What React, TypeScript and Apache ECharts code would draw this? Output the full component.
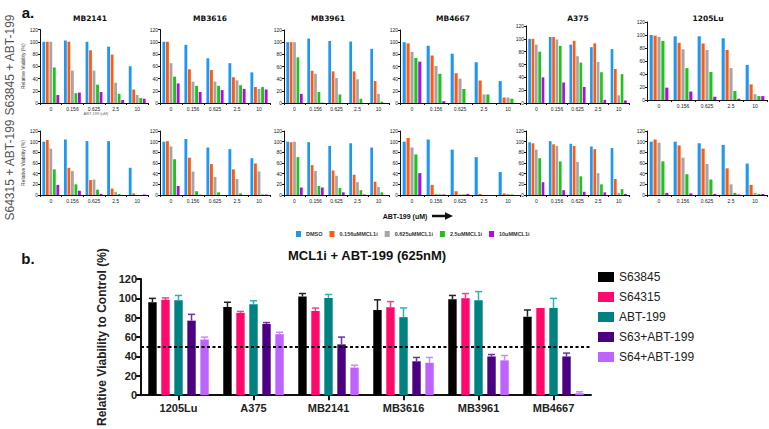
import React, { useEffect, useRef } from 'react';
import * as echarts from 'echarts';

const doses = ['0', '0.156', '0.625', '2.5', '10'];
const mclLevels = ['DMSO', '0.156uMMCL1i', '0.625uMMCL1i', '2.5uMMCL1i', '10uMMCL1i'];
const mclColors = ['#1E98F2', '#FF5A0F', '#A5A5A5', '#1EC31E', '#B20AE2'];
const cellLines = ['MB2141', 'MB3616', 'MB3961', 'MB4667', 'A375', '1205Lu'];
const rowLabels = ['S63845 + ABT-199', 'S64315 + ABT-199'];

// rows = ABT-199 dose, columns = MCL1i level (DMSO, 0.156, 0.625, 2.5, 10 uM)
const s63_MB2141 = [[100, 100, 100, 58, 13], [102, 100, 53, 16, 17], [100, 86, 53, 30, 18], [92, 79, 33, 15, 5], [60, 22, 13, 8, 7]];
const s63_MB3616 = [[100, 100, 65, 43, 32], [95, 55, 35, 28, 18], [73, 54, 35, 28, 21], [65, 42, 37, 29, 23], [50, 26, 23, 26, 22]];
const s63_MB3961 = [[100, 100, 100, 75, 15], [106, 53, 48, 18, 0.5], [102, 52, 41, 14, 0], [101, 52, 39, 7, 0], [89, 36, 15, 2, 0]];
const s63_MB4667 = [[100, 98, 84, 74, 68], [94, 78, 61, 48, 3], [81, 49, 40, 23, 0], [67, 37, 14, 14, 0], [36, 9, 9, 7, 0]];
const s63_A375 = [[100, 100, 91, 80, 40], [103, 103, 99, 89, 32], [91, 97, 73, 63, 25], [87, 93, 64, 48, 5], [84, 53, 12, 45, 4]];
const s63_1205Lu = [[100, 99, 97, 91, 19], [98, 88, 78, 49, 13], [98, 87, 77, 43, 5], [95, 77, 49, 14, 2], [54, 24, 9, 6, 6]];

const s64_MB2141 = [[100, 103, 87, 48, 19], [104, 51, 45, 20, 8], [101, 28, 29, 10, 2], [101, 12, 6, 2, 0], [51, 3, 0, 0, 1]];
const s64_MB3616 = [[100, 101, 91, 67, 17], [105, 70, 44, 7, 0.5], [89, 58, 34, 5, 0], [86, 48, 30, 3, 0], [69, 59, 44, 1, 1]];
const s64_MB3961 = [[100, 99, 100, 71, 14], [99, 56, 45, 17, 14], [92, 46, 36, 13, 5], [97, 38, 24, 9, 1], [89, 25, 15, 5, 0]];
const s64_MB4667 = [[100, 107, 89, 76, 41], [104, 19, 2, 1, 1], [85, 7, 1, 1, 2], [71, 2, 0, 0, 0], [43, 3, 2, 1, 0]];
const s64_A375 = [[99, 97, 85, 69, 24], [101, 95, 92, 63, 9], [96, 92, 62, 35, 6], [91, 86, 41, 20, 5], [88, 30, 4, 11, 2]];
const s64_1205Lu = [[100, 104, 98, 63, 4], [100, 93, 70, 39, 3], [97, 87, 58, 29, 2], [94, 50, 20, 4, 1], [59, 19, 4, 2, 2]];

const panelRows = [
  [s63_MB2141, s63_MB3616, s63_MB3961, s63_MB4667, s63_A375, s63_1205Lu],
  [s64_MB2141, s64_MB3616, s64_MB3961, s64_MB4667, s64_A375, s64_1205Lu],
];

const comboCells = ['1205Lu', 'A375', 'MB2141', 'MB3616', 'MB3961', 'MB4667'];
const comboSeries = ['S63845', 'S64315', 'ABT-199', 'S63+ABT-199', 'S64+ABT-199'];
const comboColors = ['#000000', '#FF0A6C', '#008282', '#4B0084', '#BF63FF'];
const comboErrColors = ['#222222', '#FF3D8A', '#2DB3B3', '#6A30A8', '#C98AFF'];
const viab_S63845 = [96, 91, 102, 88, 99, 81];
const err_S63845 = [4, 5, 3, 10.5, 4, 7];
const viab_S64315 = [98.5, 85, 87, 90.7, 100, 90];
const err_S64315 = [2, 1.5, 3, 6, 5, 0];
const viab_ABT199 = [98, 94, 100.5, 80.6, 98, 90];
const err_ABT199 = [5, 3.5, 3.5, 9.5, 9, 10];
const viab_S63ABT = [77, 73.5, 52.5, 35, 40, 40];
const err_S63ABT = [6.5, 1.5, 7.5, 4, 2, 3.5];
const viab_S64ABT = [57.5, 63, 28.5, 33.5, 36, 2];
const err_S64ABT = [2.5, 2, 2.5, 5.5, 5, 1.5];
const comboValues = [viab_S63845, viab_S64315, viab_ABT199, viab_S63ABT, viab_S64ABT];
const comboErrors = [err_S63845, err_S64315, err_ABT199, err_S63ABT, err_S64ABT];
const threshold = 50;

const panelLeft = [40, 160, 284, 400, 526, 647];
const panelWidth = [108, 110, 105, 120, 103, 120];
const titleCenter = [90, 210, 328, 453, 578, 708];
const rowTop = [[29.5, 29.5, 30, 30, 26, 22], [131, 131, 131, 131, 131, 131]];
const rowZero = [[103, 103, 103, 103, 103, 100], [195, 195, 195, 195, 195, 195]];

const FONT = 'Liberation Sans, Arial, sans-serif';
const comboBarWidth = 8.4;
const comboGapRatio = 0.55;

function buildOption() {
  const grid: any[] = [];
  const xAxis: any[] = [];
  const yAxis: any[] = [];
  const series: any[] = [];
  const graphic: any[] = [];

  panelRows.forEach((row, r) => {
    row.forEach((panel, c) => {
      const gi = grid.length;
      grid.push({ left: panelLeft[c], width: panelWidth[c], top: rowTop[r][c], height: rowZero[r][c] - rowTop[r][c], containLabel: false });
      xAxis.push({
        type: 'category', gridIndex: gi, data: doses,
        axisLine: { lineStyle: { color: '#111', width: 1 } },
        axisTick: { show: true, length: 2, lineStyle: { color: '#111' } },
        axisLabel: { fontSize: 5, color: '#222', margin: 3, interval: 0, fontFamily: FONT },
      });
      yAxis.push({
        type: 'value', gridIndex: gi, min: 0, max: 120, interval: 20,
        splitLine: { show: false },
        axisLine: { show: true, lineStyle: { color: '#111', width: 1 } },
        axisTick: { show: true, length: 2, lineStyle: { color: '#111' } },
        axisLabel: { fontSize: 5, color: '#222', margin: 2, fontFamily: FONT },
        name: c === 0 ? 'Relative Viability (%)' : '',
        nameLocation: 'middle', nameRotate: 90, nameGap: 13,
        nameTextStyle: { fontSize: 5, color: '#333', fontFamily: FONT },
      });
      mclLevels.forEach((lvl, k) => {
        series.push({
          type: 'bar', name: lvl, xAxisIndex: gi, yAxisIndex: gi,
          data: panel.map((d) => d[k]),
          itemStyle: { color: mclColors[k] },
          barGap: '25%', barCategoryGap: '22%',
        });
      });
      if (r === 0) {
        graphic.push({
          type: 'text', x: titleCenter[c], y: 18,
          style: { text: cellLines[c], align: 'center', verticalAlign: 'middle', fontSize: 7.5, fontWeight: 'bold', fontFamily: 'DejaVu Sans, Verdana, sans-serif', fill: '#111' },
        });
      }
    });
  });

  const bi = grid.length;
  grid.push({ left: 141, width: 450, top: 279, height: 131, containLabel: false });
  xAxis.push({
    type: 'category', gridIndex: bi, data: comboCells,
    axisLine: { lineStyle: { color: '#111', width: 2 } },
    axisTick: { show: true, alignWithLabel: true, length: 5, lineStyle: { color: '#111', width: 2 } },
    axisLabel: { fontSize: 11, fontWeight: 'bold', color: '#222', margin: 7, interval: 0, fontFamily: FONT },
  });
  yAxis.push({
    type: 'value', gridIndex: bi, min: 0, max: 120, interval: 20,
    splitLine: { show: false },
    axisLine: { show: true, lineStyle: { color: '#111', width: 2 } },
    axisTick: { show: true, length: 5, lineStyle: { color: '#111', width: 2 } },
    axisLabel: { fontSize: 11, fontWeight: 'bold', color: '#222', margin: 4, fontFamily: FONT },
    name: 'Relative Viability to Control (%)',
    nameLocation: 'middle', nameRotate: 90, nameGap: 22,
    nameTextStyle: { fontSize: 12, fontWeight: 'bold', color: '#222', fontFamily: FONT },
  });

  const nS = comboSeries.length;
  comboSeries.forEach((name, i) => {
    const s: any = {
      type: 'bar', name, xAxisIndex: bi, yAxisIndex: bi,
      data: comboValues[i], barWidth: comboBarWidth, barGap: comboGapRatio * 100 + '%',
      itemStyle: { color: comboColors[i] },
    };
    if (i === nS - 1) {
      s.markLine = { silent: true, symbol: 'none', label: { show: false }, lineStyle: { color: '#000', width: 2, type: [3, 2.5] }, data: [{ yAxis: threshold }] };
    }
    series.push(s);
  });
  comboSeries.forEach((name, i) => {
    series.push({
      type: 'custom', name: 'err ' + name, xAxisIndex: bi, yAxisIndex: bi, z: 5,
      data: comboValues[i].map((v, j) => [j, v, comboErrors[i][j]]),
      renderItem: (params: any, api: any) => {
        const xi = api.value(0);
        const v = api.value(1);
        const e = api.value(2);
        if (!e) return { type: 'group', children: [] };
        const base = api.coord([xi, v]);
        const top = api.coord([xi, v + e]);
        const step = comboBarWidth * (1 + comboGapRatio);
        const total = nS * comboBarWidth + (nS - 1) * comboBarWidth * comboGapRatio;
        const x = base[0] - total / 2 + i * step + comboBarWidth / 2;
        const half = 3.5;
        const st = { stroke: comboErrColors[i], lineWidth: 1.5 };
        return {
          type: 'group',
          children: [
            { type: 'line', shape: { x1: x, y1: base[1], x2: x, y2: top[1] }, style: st },
            { type: 'line', shape: { x1: x - half, y1: top[1], x2: x + half, y2: top[1] }, style: st },
          ],
        };
      },
    });
  });

  graphic.push(
    { type: 'text', x: 28, y: 12, style: { text: 'a.', fontSize: 15, fontWeight: 'bold', fontFamily: FONT, fill: '#111', align: 'center', verticalAlign: 'middle' } },
    { type: 'text', x: 28, y: 258, style: { text: 'b.', fontSize: 15, fontWeight: 'bold', fontFamily: FONT, fill: '#111', align: 'center', verticalAlign: 'middle' } },
    { type: 'text', x: 10, y: 65, rotation: Math.PI / 2, style: { text: rowLabels[0], fontSize: 12, fontFamily: FONT, fill: '#555', align: 'center', verticalAlign: 'middle' } },
    { type: 'text', x: 10, y: 170, rotation: Math.PI / 2, style: { text: rowLabels[1], fontSize: 12, fontFamily: FONT, fill: '#555', align: 'center', verticalAlign: 'middle' } },
    { type: 'text', x: 96, y: 113, style: { text: 'ABT-199 (uM)', fontSize: 4, fontFamily: FONT, fill: '#666', align: 'center', verticalAlign: 'middle' } },
    { type: 'text', x: 405, y: 216, style: { text: 'ABT-199 (uM)', fontSize: 7, fontWeight: 'bold', fontFamily: FONT, fill: '#111', align: 'center', verticalAlign: 'middle' } },
    { type: 'polygon', shape: { points: [[432, 214.8], [445, 214.8], [445, 212.3], [453, 216], [445, 219.7], [445, 217.2], [432, 217.2]] }, style: { fill: '#111' } },
    { type: 'text', x: 367, y: 255, style: { text: 'MCL1i + ABT-199 (625nM)', fontSize: 13, fontWeight: 'bold', fontFamily: FONT, fill: '#111', align: 'center', verticalAlign: 'middle' } },
  );

  return {
    animation: false,
    backgroundColor: '#ffffff',
    textStyle: { fontFamily: FONT },
    grid, xAxis, yAxis, series, graphic,
    legend: [
      {
        data: mclLevels, left: 291, top: 226, icon: 'rect', itemWidth: 5, itemHeight: 6, itemGap: 7, selectedMode: false,
        textStyle: { fontSize: 5.5, fontWeight: 'bold', color: '#333', fontFamily: FONT },
      },
      {
        data: comboSeries, orient: 'vertical', left: 593, top: 266, icon: 'rect', itemWidth: 16, itemHeight: 10, itemGap: 8, selectedMode: false,
        textStyle: { fontSize: 12, color: '#222', fontFamily: FONT },
      },
    ],
  };
}

export default function App() {
  const ref = useRef<HTMLDivElement>(null);
  useEffect(() => {
    if (!ref.current) return;
    const chart = echarts.init(ref.current, undefined, { renderer: 'svg' });
    chart.setOption(buildOption() as any);
    return () => chart.dispose();
  }, []);
  return <div ref={ref} style={{ position: 'absolute', left: 0, top: 0, width: 769, height: 429, background: '#fff' }} />;
}
